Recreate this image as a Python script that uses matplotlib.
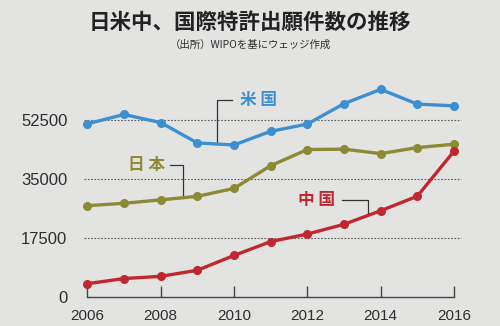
import numpy as np
import matplotlib
matplotlib.use('Agg')
import matplotlib.pyplot as plt

plt.rcParams['font.family'] = ['Noto Sans CJK JP', 'DejaVu Sans']

years = np.arange(2006, 2017)
us = [51280, 54043, 51637, 45617, 45008, 49058, 51207, 57239, 61481, 57121, 56595]
japan = [27025, 27743, 28760, 29802, 32150, 38874, 43660, 43771, 42459, 44235, 45239]
china = [3942, 5455, 6120, 7900, 12296, 16402, 18627, 21516, 25539, 29846, 43168]

yticks = [0, 17500, 35000, 52500]
xticks = [2006, 2008, 2010, 2012, 2014, 2016]

title = '日米中、国際特許出願件数の推移'
source = '（出所）WIPOを基にウェッジ作成'

bg = '#e3e4e2'
c_us = '#3d8fd1'
c_jp = '#8c8a35'
c_cn = '#c1272f'
ink = '#2e2e2e'

fig = plt.figure(figsize=(5, 3.26), dpi=100, facecolor=bg)
ax = fig.add_axes([0.16, 0.089, 0.77, 0.663], facecolor=bg)

for y in yticks[1:]:
    ax.axhline(y, xmin=0.01, xmax=0.99, color='#5a5a5a', lw=0.8, ls=(0, (1.5, 1.5)), zorder=1)

for vals, c in [(us, c_us), (japan, c_jp), (china, c_cn)]:
    ax.plot(years, vals, color=c, lw=2.4, marker='o', ms=5.5, zorder=3)

ax.set_xlim(2005.8, 2016.3)
ax.set_ylim(0, 64000)

for s in ['top', 'right', 'left']:
    ax.spines[s].set_visible(False)
ax.spines['bottom'].set_bounds(2006, 2016)
ax.spines['bottom'].set_color('#444444')
ax.spines['bottom'].set_linewidth(1.0)

ax.set_xticks(xticks)
ax.set_xticklabels([str(x) for x in xticks], family='Liberation Sans', fontsize=11, color=ink)
ax.set_yticks(yticks)
ax.set_yticklabels([str(y) for y in yticks], family='Liberation Sans', fontsize=12, color=ink)
ax.tick_params(axis='x', direction='in', length=8, width=1.0, color='#444444', pad=9)
ax.tick_params(axis='y', length=0, pad=9)

# series labels with bracket leaders
def leader(x0, x1, ytext, vals, color, text, ha, tx):
    yline = np.interp(x1, years, vals)
    ax.plot([x0, x1, x1], [ytext, ytext, yline], color='#333333', lw=0.9, zorder=2)
    ax.text(tx, ytext, text, color=color, fontsize=12, fontweight='bold',
            ha=ha, va='center', zorder=4)

leader(2009.95, 2009.54, 58200, us, c_us, '米 国', 'left', 2010.17)
leader(2008.26, 2008.62, 39200, japan, c_jp, '日 本', 'right', 2008.13)
leader(2012.95, 2013.66, 28800, china, c_cn, '中 国', 'right', 2012.76)

fig.text(0.5, 0.93, title, ha='center', va='center', fontsize=15.5,
         fontweight='bold', color='#222222')
fig.text(0.5, 0.862, source, ha='center', va='center', fontsize=7.5, color=ink)

fig.savefig('out.png', dpi=100, facecolor=bg)
